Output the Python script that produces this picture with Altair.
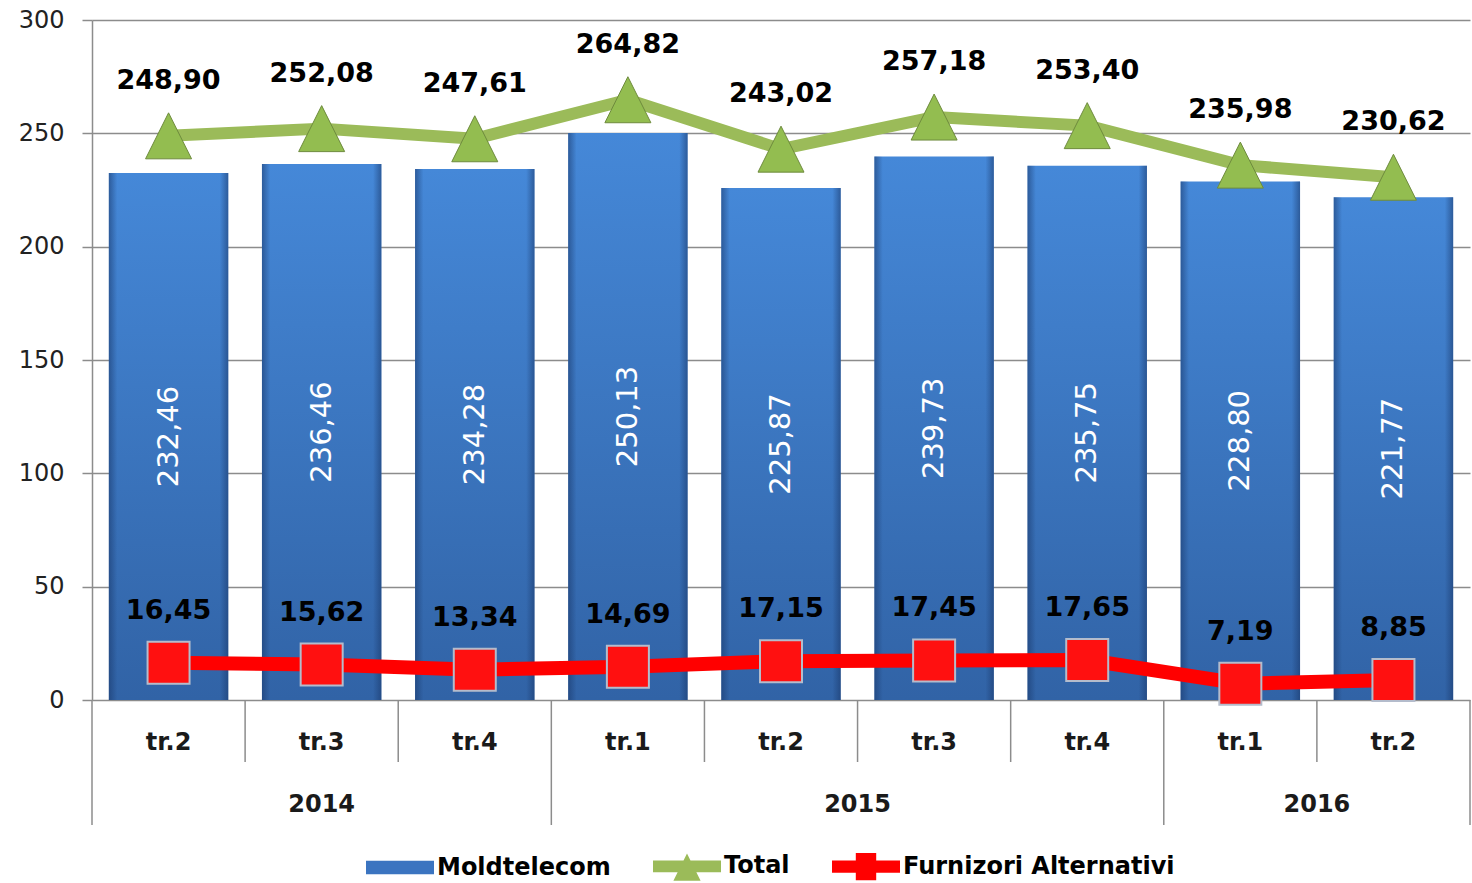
import altair as alt
import pandas as pd

quarters = ["tr.2", "tr.3", "tr.4", "tr.1", "tr.2", "tr.3", "tr.4", "tr.1", "tr.2"]
years = ["2014", "2014", "2014", "2015", "2015", "2015", "2015", "2016", "2016"]
moldtelecom = [232.46, 236.46, 234.28, 250.13, 225.87, 239.73, 235.75, 228.80, 221.77]
total = [248.90, 252.08, 247.61, 264.82, 243.02, 257.18, 253.40, 235.98, 230.62]
furnizori = [16.45, 15.62, 13.34, 14.69, 17.15, 17.45, 17.65, 7.19, 8.85]
series_names = ["Moldtelecom", "Total", "Furnizori Alternativi"]
y_ticks = [0, 50, 100, 150, 200, 250, 300]

FONT = "DejaVu Sans"
GRID = "#8c8c8c"
GREEN = "#9bbb59"
RED = "#ff0000"
BLUE = "#3b74c0"


def fmt(v):
    return f"{v:.2f}".replace(".", ",")


df = pd.DataFrame({
    "idx": list(range(len(quarters))),
    "quarter": quarters,
    "year": years,
    "mold": moldtelecom,
    "total": total,
    "furn": furnizori,
})
df["mold_lbl"] = [fmt(v) for v in moldtelecom]
df["total_lbl"] = [fmt(v) for v in total]
df["furn_lbl"] = [fmt(v) for v in furnizori]

bounds = []
for i in range(len(quarters) + 1):
    long_sep = i == 0 or i == len(quarters) or years[i] != years[i - 1]
    bounds.append({"b": i - 0.5, "kind": "long" if long_sep else "short"})
bounds_df = pd.DataFrame(bounds)

legend_df = pd.DataFrame({"series": series_names})

xscale = alt.Scale(domain=[-0.5, len(quarters) - 0.5], nice=False, zero=False)
yscale = alt.Scale(domain=[0, 300], nice=False)

X = alt.X("idx:Q", scale=xscale, axis=None)

base = alt.Chart(df)

bar_grad = alt.LinearGradient(
    gradient="linear",
    stops=[
        alt.GradientStop(offset=0, color="#4588d8"),
        alt.GradientStop(offset=1, color="#3163a6"),
    ],
    x1=0, x2=0, y1=0, y2=1,
)
edge_grad = alt.LinearGradient(
    gradient="linear",
    stops=[
        alt.GradientStop(offset=0, color="rgba(25,55,105,0.55)"),
        alt.GradientStop(offset=0.07, color="rgba(25,55,105,0)"),
        alt.GradientStop(offset=0.93, color="rgba(25,55,105,0)"),
        alt.GradientStop(offset=1, color="rgba(25,55,105,0.55)"),
    ],
    x1=0, x2=1, y1=0, y2=0,
)

bars_base = base.transform_calculate(
    x0="datum.idx - 0.39", x1="datum.idx + 0.39"
)
bars = bars_base.mark_bar(color=bar_grad).encode(
    x=alt.X("x0:Q", scale=xscale, axis=None),
    x2="x1:Q",
    y=alt.Y(
        "mold:Q",
        scale=yscale,
        title=None,
        axis=alt.Axis(values=y_ticks, grid=True, title=None),
    ),
    y2=alt.datum(0),
)
bar_edges = bars_base.mark_bar(color=edge_grad).encode(
    x=alt.X("x0:Q", scale=xscale, axis=None),
    x2="x1:Q",
    y=alt.Y("mold:Q", scale=yscale, title=None),
    y2=alt.datum(0),
)

bar_text = base.transform_calculate(half="datum.mold / 2").mark_text(
    angle=270, color="white", fontSize=29, font=FONT, baseline="middle", align="center"
).encode(
    x=X,
    y=alt.Y("half:Q", scale=yscale, title=None),
    text="mold_lbl:N",
)

total_line = base.mark_line(
    color=GREEN, strokeWidth=12, strokeJoin="round"
).encode(x=X, y=alt.Y("total:Q", scale=yscale, title=None))
total_pts = base.mark_point(
    shape="M0,-1L-1,1L1,1Z", size=2116, filled=True, fill="#93bd50",
    stroke="#6e8b3d", strokeWidth=1, opacity=1,
).encode(x=X, y=alt.Y("total:Q", scale=yscale, title=None))
total_text = base.mark_text(
    dy=-55, fontSize=27, fontWeight="bold", font=FONT, color="black", baseline="middle"
).encode(x=X, y=alt.Y("total:Q", scale=yscale, title=None), text="total_lbl:N")

furn_line = base.mark_line(
    color=RED, strokeWidth=14, strokeJoin="round"
).encode(x=X, y=alt.Y("furn:Q", scale=yscale, title=None))
furn_pts = base.mark_point(
    shape="square", size=1764, filled=True, fill="#ff1010",
    stroke="#b4bccc", strokeWidth=2, opacity=1,
).encode(x=X, y=alt.Y("furn:Q", scale=yscale, title=None))
furn_text = base.mark_text(
    dy=-52, fontSize=27, fontWeight="bold", font=FONT, color="black", baseline="middle"
).encode(x=X, y=alt.Y("furn:Q", scale=yscale, title=None), text="furn_lbl:N")

sep_short = alt.Chart(bounds_df).transform_filter("datum.kind == 'short'").mark_rule(
    color=GRID, strokeWidth=1.5
).encode(x=alt.X("b:Q", scale=xscale, axis=None), y=alt.value(680), y2=alt.value(742))
sep_long = alt.Chart(bounds_df).transform_filter("datum.kind == 'long'").mark_rule(
    color=GRID, strokeWidth=1.5
).encode(x=alt.X("b:Q", scale=xscale, axis=None), y=alt.value(680), y2=alt.value(805))

q_text = base.mark_text(
    fontSize=24, fontWeight="bold", font=FONT, color="#1a1a1a", baseline="middle"
).encode(x=X, y=alt.value(723), text="quarter:N")

year_text = base.transform_aggregate(
    mid="mean(idx)", groupby=["year"]
).mark_text(
    fontSize=24, fontWeight="bold", font=FONT, color="#1a1a1a", baseline="middle"
).encode(x=alt.X("mid:Q", scale=xscale, axis=None), y=alt.value(785), text="year:N")

legend_paths = [
    "M-1,-0.2H1V0.2H-1Z",
    "M-1,-0.17H1V0.17H-1Z M-0.4,0.42L0,-0.38L0.4,0.42Z",
    "M-1,-0.18H1V0.18H-1Z M-0.3,-0.4H0.3V0.4H-0.3Z",
]
leg = alt.Legend(
    title=None, orient="none", legendX=274, legendY=812, direction="horizontal",
    labelFont=FONT, labelFontSize=24, labelFontWeight="bold", labelColor="black",
    labelOffset=3, labelLimit=0, columnPadding=42, symbolStrokeWidth=0,
    symbolSize=4624, symbolOpacity=1,
)
legend_layer = alt.Chart(legend_df).mark_point(
    filled=True, opacity=1, size=4624
).encode(
    x=alt.value(-300),
    y=alt.value(-300),
    color=alt.Color(
        "series:N",
        scale=alt.Scale(domain=series_names, range=[BLUE, GREEN, RED]),
        legend=leg,
    ),
    shape=alt.Shape(
        "series:N",
        scale=alt.Scale(domain=series_names, range=legend_paths),
        legend=leg,
    ),
)

chart = alt.layer(
    bars, bar_edges, bar_text,
    total_line, furn_line,
    total_pts, furn_pts,
    total_text, furn_text,
    sep_short, sep_long, q_text, year_text,
    legend_layer,
).properties(
    width=1378,
    height=680,
    autosize=alt.AutoSizeParams(type="none"),
    padding={"left": 92, "top": 20, "right": 2, "bottom": 183},
    background="white",
).configure_view(
    stroke=None
).configure_axisY(
    domainColor=GRID, domainWidth=1.5, tickColor=GRID, tickWidth=1.5, tickSize=10,
    gridColor=GRID, gridWidth=1.3, labelFont=FONT, labelFontSize=24,
    labelColor="#222222", labelPadding=18,
)

chart.save("out.html", embed_options={"renderer": "svg", "actions": False})
